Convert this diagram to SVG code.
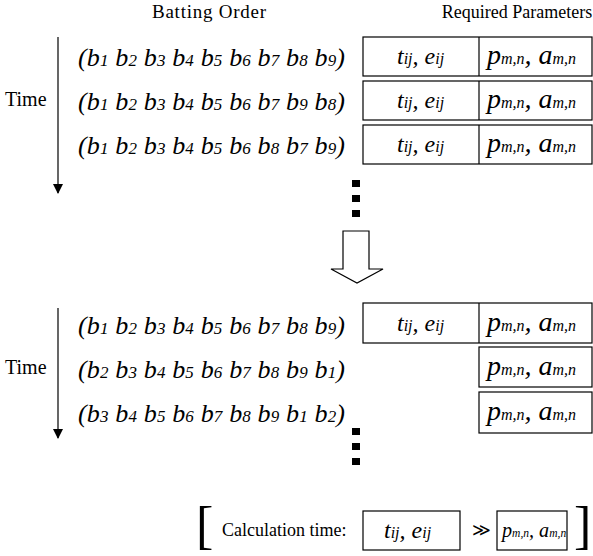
<svg xmlns="http://www.w3.org/2000/svg" width="593" height="556" viewBox="0 0 593 556">
  <defs>
    <style>
      .hdr { font-family: "Liberation Serif", "Times New Roman", serif; fill: #000; }
      .seq { font-family: "Liberation Serif", "Times New Roman", serif; font-size: 26px; font-style: italic; fill: #000; }
      .sub { font-size: 17px; }
      .var { font-family: "Liberation Serif", "Times New Roman", serif; font-style: italic; fill: #000; }
      .box { fill: #fff; stroke: #000; stroke-width: 1.2; }
      .line { stroke: #000; stroke-width: 1.2; fill: none; }
      .dot { fill: #000; }
    </style>
    <marker id="tip" markerWidth="10" markerHeight="10" refX="9" refY="5" orient="auto" markerUnits="userSpaceOnUse" viewBox="0 0 10 10">
      <path d="M0,0 L10,5 L0,10 Z" fill="#000"/>
    </marker>
    <!-- parameter labels reused in every row -->
    <g id="te">
      <text class="var" font-size="24">t<tspan font-size="16">ij</tspan>, e<tspan font-size="16">ij</tspan></text>
    </g>
    <g id="pa">
      <text class="var" font-size="28">p<tspan font-size="16">m,n</tspan>, a<tspan font-size="16">m,n</tspan></text>
    </g>
  </defs>

  <rect width="593" height="556" fill="#fff"/>

  <!-- column headings -->
  <g id="headings">
    <text class="hdr" style="font-size:19px" x="209" y="18" text-anchor="middle" textLength="114">Batting Order</text>
    <text class="hdr" style="font-size:18px" x="517" y="18" text-anchor="middle">Required Parameters</text>
  </g>

  <!-- time axes, ellipses and transition arrow -->
  <g id="connectors">
    <line class="line" x1="58" y1="37" x2="58" y2="193" marker-end="url(#tip)"/>
    <line class="line" x1="58" y1="308" x2="58" y2="438" marker-end="url(#tip)"/>
    <polygon class="line" points="343,231 369,231 369,269 383,269 357,283 331,269 343,269" fill="#fff"/>
    <rect class="dot" x="352" y="180" width="8" height="7"/>
    <rect class="dot" x="352" y="195" width="8" height="7"/>
    <rect class="dot" x="352" y="210" width="8" height="7"/>
    <rect class="dot" x="352" y="428" width="8" height="7"/>
    <rect class="dot" x="352" y="443" width="8" height="7"/>
    <rect class="dot" x="352" y="458" width="8" height="7"/>
  </g>

  <g id="time-top">
    <text class="hdr" style="font-size:20px" x="5" y="106">Time</text>
  </g>
  <g id="time-bottom">
    <text class="hdr" style="font-size:20px" x="5" y="374">Time</text>
  </g>

  <!-- sequences before the change -->
  <g id="seq-1">
    <text class="seq" x="78" y="66" textLength="267">(b<tspan class="sub">1</tspan> b<tspan class="sub">2</tspan> b<tspan class="sub">3</tspan> b<tspan class="sub">4</tspan> b<tspan class="sub">5</tspan> b<tspan class="sub">6</tspan> b<tspan class="sub">7</tspan> b<tspan class="sub">8</tspan> b<tspan class="sub">9</tspan>)</text>
    <rect class="box" x="363" y="37" width="229" height="39"/>
    <line class="line" x1="479" y1="37" x2="479" y2="76"/>
    <use href="#te" x="397" y="64"/>
    <use href="#pa" x="487" y="64"/>
  </g>
  <g id="seq-2">
    <text class="seq" x="78" y="110" textLength="267">(b<tspan class="sub">1</tspan> b<tspan class="sub">2</tspan> b<tspan class="sub">3</tspan> b<tspan class="sub">4</tspan> b<tspan class="sub">5</tspan> b<tspan class="sub">6</tspan> b<tspan class="sub">7</tspan> b<tspan class="sub">9</tspan> b<tspan class="sub">8</tspan>)</text>
    <rect class="box" x="363" y="81" width="229" height="39"/>
    <line class="line" x1="479" y1="81" x2="479" y2="120"/>
    <use href="#te" x="397" y="108"/>
    <use href="#pa" x="487" y="108"/>
  </g>
  <g id="seq-3">
    <text class="seq" x="78" y="154" textLength="267">(b<tspan class="sub">1</tspan> b<tspan class="sub">2</tspan> b<tspan class="sub">3</tspan> b<tspan class="sub">4</tspan> b<tspan class="sub">5</tspan> b<tspan class="sub">6</tspan> b<tspan class="sub">8</tspan> b<tspan class="sub">7</tspan> b<tspan class="sub">9</tspan>)</text>
    <rect class="box" x="363" y="125" width="229" height="39"/>
    <line class="line" x1="479" y1="125" x2="479" y2="164"/>
    <use href="#te" x="397" y="152"/>
    <use href="#pa" x="487" y="152"/>
  </g>

  <!-- sequences after the change -->
  <g id="seq-4">
    <text class="seq" x="78" y="334" textLength="267">(b<tspan class="sub">1</tspan> b<tspan class="sub">2</tspan> b<tspan class="sub">3</tspan> b<tspan class="sub">4</tspan> b<tspan class="sub">5</tspan> b<tspan class="sub">6</tspan> b<tspan class="sub">7</tspan> b<tspan class="sub">8</tspan> b<tspan class="sub">9</tspan>)</text>
    <rect class="box" x="363" y="303" width="229" height="40"/>
    <line class="line" x1="479" y1="303" x2="479" y2="343"/>
    <use href="#te" x="397" y="331"/>
    <use href="#pa" x="487" y="331"/>
  </g>
  <g id="seq-5">
    <text class="seq" x="78" y="378" textLength="267">(b<tspan class="sub">2</tspan> b<tspan class="sub">3</tspan> b<tspan class="sub">4</tspan> b<tspan class="sub">5</tspan> b<tspan class="sub">6</tspan> b<tspan class="sub">7</tspan> b<tspan class="sub">8</tspan> b<tspan class="sub">9</tspan> b<tspan class="sub">1</tspan>)</text>
    <rect class="box" x="479" y="347" width="113" height="40"/>
    <use href="#pa" x="487" y="375"/>
  </g>
  <g id="seq-6">
    <text class="seq" x="78" y="422" textLength="267">(b<tspan class="sub">3</tspan> b<tspan class="sub">4</tspan> b<tspan class="sub">5</tspan> b<tspan class="sub">6</tspan> b<tspan class="sub">7</tspan> b<tspan class="sub">8</tspan> b<tspan class="sub">9</tspan> b<tspan class="sub">1</tspan> b<tspan class="sub">2</tspan>)</text>
    <rect class="box" x="479" y="392" width="113" height="41"/>
    <use href="#pa" x="487" y="420"/>
  </g>

  <!-- calculation time comparison -->
  <g id="calc-time">
    <text class="hdr" style="font-size:52px" x="196" y="543">[</text>
    <text class="hdr" style="font-size:18px" x="222" y="536">Calculation time:</text>
    <rect class="box" x="363" y="511" width="97" height="39"/>
    <use href="#te" x="384" y="538"/>
    <text class="hdr" style="font-size:18px" x="481" y="536" text-anchor="middle">≫</text>
    <rect class="box" x="497" y="511" width="70" height="39"/>
    <use href="#pa" transform="translate(502 537) scale(0.72)"/>
    <text class="hdr" style="font-size:52px" x="574" y="543">]</text>
  </g>
</svg>
